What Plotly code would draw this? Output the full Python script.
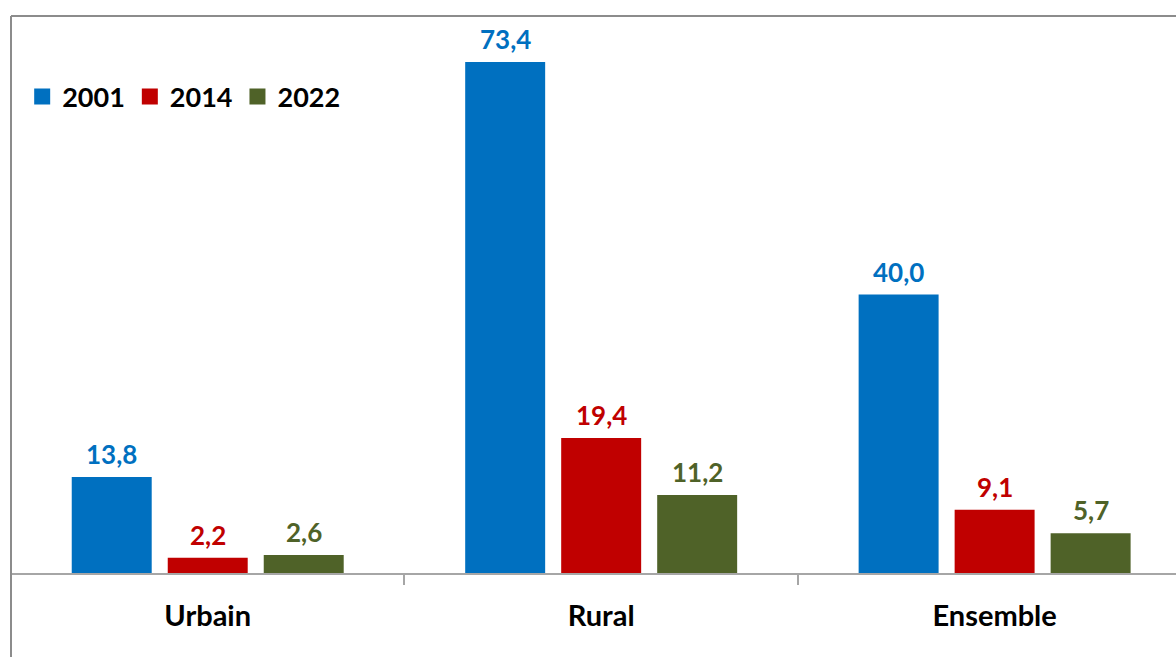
import plotly.graph_objects as go

categories = ["Urbain", "Rural", "Ensemble"]
years = ["2001", "2014", "2022"]
values_2001 = [13.8, 73.4, 40.0]
values_2014 = [2.2, 19.4, 9.1]
values_2022 = [2.6, 11.2, 5.7]
series = [values_2001, values_2014, values_2022]
colors = ["#0070C0", "#C00000", "#4F6228"]

FONT = "Lato"
bargap = 0.268
slot = (1 - bargap) / 3

fig = go.Figure()
for name, vals, col in zip(years, series, colors):
    fig.add_trace(go.Bar(x=categories, y=vals, name=name, marker=dict(color=col, line=dict(width=0)),
                         showlegend=False, hoverinfo="skip"))
# legend proxies
for name, col in zip(years, colors):
    fig.add_trace(go.Scatter(x=[None], y=[None], mode="markers", name=name,
                             marker=dict(symbol="square", size=16, color=col)))

annotations = []
for j, (vals, col) in enumerate(zip(series, colors)):
    for i, v in enumerate(vals):
        annotations.append(dict(
            x=i + (j - 1) * slot, y=v, xref="x", yref="y",
            text=f"{v:.1f}".replace(".", ","), showarrow=False,
            yanchor="bottom", xanchor="center", yshift=5,
            font=dict(family=FONT, size=26, color=col, weight="bold")))

fig.update_layout(
    width=1176, height=657,
    margin=dict(l=11, r=0, t=16, b=84),
    paper_bgcolor="white", plot_bgcolor="white",
    barmode="group", bargap=bargap, bargroupgap=0.167,
    showlegend=True,
    legend=dict(orientation="h", x=0.0096, xanchor="left", y=0.8546, yanchor="middle",
                font=dict(family=FONT, size=27, color="black", weight="bold"),
                bgcolor="rgba(0,0,0,0)", itemclick=False),
    xaxis=dict(range=[-0.5, 2.461], showline=True, linecolor="#A6A6A6", linewidth=2,
               ticks="outside", tickson="boundaries", ticklen=10, tickcolor="#A6A6A6", tickwidth=2,
               tickfont=dict(family=FONT, size=29, color="black", weight="bold"),
               ticklabelstandoff=16,
               showgrid=False, zeroline=False, fixedrange=True),
    yaxis=dict(range=[0, 80], visible=False, showgrid=False, zeroline=False, fixedrange=True),
    annotations=annotations,
    shapes=[
        dict(type="line", xref="paper", yref="paper", x0=0, x1=0, y0=1, y1=-0.3,
             line=dict(color="#8C8C8C", width=2)),
        dict(type="line", xref="paper", yref="paper", x0=0, x1=1.05, y0=1, y1=1,
             line=dict(color="#8C8C8C", width=2)),
    ],
)

fig.write_html("out.html", config={"displayModeBar": False},
               post_script="document.body.style.margin='0';document.body.style.overflow='hidden';")
